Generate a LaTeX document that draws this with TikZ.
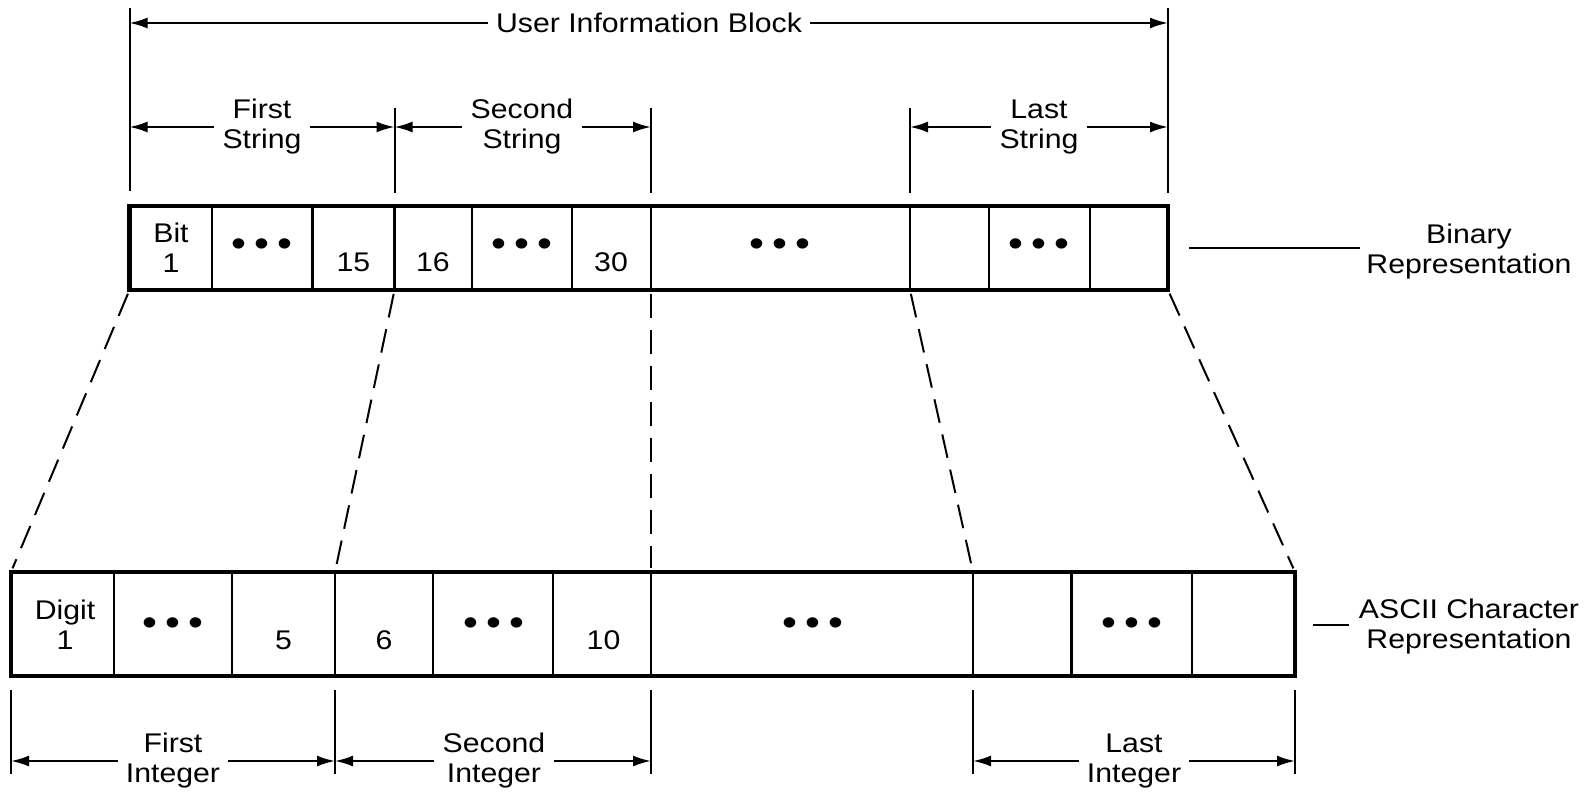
\documentclass[tikz,border=0pt]{standalone}
\usepackage{fontspec}
\setmainfont{Liberation Sans}[FakeStretch=1.12]
\usetikzlibrary{arrows.meta}
\newcommand\threedots{\textbullet\hspace{4pt}\textbullet\hspace{4pt}\textbullet}
\begin{document}
\begin{tikzpicture}[x=0.5pt,y=-0.5pt,
  txt/.style={font=\fontsize{13.5pt}{15pt}\selectfont,inner sep=0,align=center},
  lbl/.style={txt,inner xsep=4pt},
  dots/.style={font=\fontsize{19pt}{19pt}\selectfont,inner sep=0},
  dim/.style={line width=1pt,-{Latex[length=9pt,width=5.5pt]}},
  ext/.style={line width=1pt},
  frame/.style={line width=2.2pt},
  wall/.style={line width=1.1pt},
  zoomline/.style={line width=1pt,dash pattern=on 12pt off 6pt,shorten <=2pt,shorten >=2pt}]
\useasboundingbox (0,0) rectangle (1586,794);
% binary row
\draw[frame] (129.5,206) rectangle (1168,290);
\foreach \x in {212,312.5,394.5,472,572,651,910,989,1090}\draw[wall] (\x,206)--(\x,290);
\node[txt] (bit1) at (171,248) {Bit\\1};
\node[dots] (bd1) at (262,248) {\threedots};
\node[txt] (b15) at (353.5,262) {15};
\node[txt] (b16) at (433,262) {16};
\node[dots] (bd2) at (522,248) {\threedots};
\node[txt] (b30) at (611,262) {30};
\node[dots] (bd3) at (780,248) {\threedots};
\node[dots] (bd4) at (1039,248) {\threedots};
% ascii row
\draw[frame] (11,572) rectangle (1295,676);
\foreach \x in {114,232,335,433,553,651,973,1071.5,1192}\draw[wall] (\x,572)--(\x,676);
\node[txt] (dig1) at (65,625) {Digit\\1};
\node[dots] (ad1) at (173,627) {\threedots};
\node[txt] (a5) at (283.5,640) {5};
\node[txt] (a6) at (384,640) {6};
\node[dots] (ad2) at (494,627) {\threedots};
\node[txt] (a10) at (603.5,640) {10};
\node[dots] (ad3) at (813,627) {\threedots};
\node[dots] (ad4) at (1132,627) {\threedots};
% corners joined by the dashed lines
\coordinate (tA) at (129.5,290);\coordinate (bA) at (11,572);
\coordinate (tB) at (394.5,290);\coordinate (bB) at (335,572);
\coordinate (tC) at (651,290);\coordinate (bC) at (651,572);
\coordinate (tD) at (910,290);\coordinate (bD) at (973,572);
\coordinate (tE) at (1168,290);\coordinate (bE) at (1295,572);
\foreach \p in {A,B,C,D,E}\draw[zoomline] (t\p)--(b\p);
% extension lines
\draw[ext] (129.5,8)--(129.5,191);
\draw[ext] (1168,8)--(1168,193);
\foreach \x in {394.5,651,910}\draw[ext] (\x,108)--(\x,193);
\foreach \x in {11,335,651,973,1295}\draw[ext] (\x,690)--(\x,774);
% strings
\node[lbl] (uib) at (649,23) {User Information Block};
\draw[dim] (uib.west)--(uib.west -| tA);
\draw[dim] (uib.east)--(uib.east -| tE);
\node[lbl] (fstr) at (262,127) {First\\String};
\node[lbl] (sstr) at (522,127) {Second\\String};
\node[lbl] (lstr) at (1039,127) {Last\\String};
\draw[dim] (fstr.west)--(fstr.west -| tA);
\draw[dim] (fstr.east)--(fstr.east -| tB);
\draw[dim] (sstr.west)--(sstr.west -| tB);
\draw[dim] (sstr.east)--(sstr.east -| tC);
\draw[dim] (lstr.west)--(lstr.west -| tD);
\draw[dim] (lstr.east)--(lstr.east -| tE);
% integers
\node[lbl] (fint) at (173,761) {First\\Integer};
\node[lbl] (sint) at (494,761) {Second\\Integer};
\node[lbl] (lint) at (1134,761) {Last\\Integer};
\draw[dim] (fint.west)--(fint.west -| bA);
\draw[dim] (fint.east)--(fint.east -| bB);
\draw[dim] (sint.west)--(sint.west -| bB);
\draw[dim] (sint.east)--(sint.east -| bC);
\draw[dim] (lint.west)--(lint.west -| bD);
\draw[dim] (lint.east)--(lint.east -| bE);
% side labels
\node[txt] (binrep) at (1469,252) {Binary\\Representation};
\coordinate (binlead) at (1189,248);
\draw[ext] (binlead)--(binlead -| 1360,0);
\node[txt] (ascrep) at (1469,627) {ASCII Character\\Representation};
\coordinate (asclead) at (1313,625);
\draw[ext] (asclead)--(asclead -| 1349,0);
\end{tikzpicture}
\end{document}
